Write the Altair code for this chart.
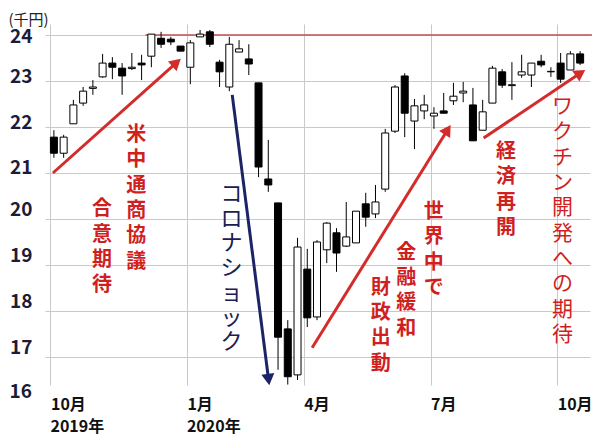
import math
import altair as alt
import numpy as np
import pandas as pd

FONT = "Noto Sans CJK JP"

# ---------------- data (thousand yen, weekly) ----------------
weeks = pd.date_range("2019-09-30", periods=55, freq="7D").strftime("%Y-%m-%d").tolist()
opens = [21.78, 21.43, 22.07, 22.52, 22.84, 23.09, 23.39, 23.28, 23.27, 23.39,
         23.54, 23.93, 23.91, 23.76, 23.30, 23.96, 24.07, 23.41, 22.87, 23.63,
         23.48, 22.96, 20.87, 20.35, 17.61, 16.61, 18.91, 17.87, 19.33, 19.70,
         19.41, 19.48, 20.33, 20.11, 20.65, 21.91, 23.11, 22.13, 22.35, 22.24,
         22.35, 22.57, 22.74, 22.48, 21.93, 22.52, 23.20, 22.90, 23.13, 23.13,
         23.43, 23.20, 23.39, 23.24, 23.59]
highs = [21.93, 21.83, 22.59, 22.87, 23.02, 23.59, 23.52, 23.39, 23.61, 23.57,
         24.02, 24.07, 23.96, 23.76, 23.89, 24.11, 24.11, 23.46, 23.96, 23.89,
         23.80, 22.96, 21.72, 20.35, 17.80, 19.59, 19.35, 19.54, 19.93, 19.80,
         20.37, 20.17, 20.57, 20.74, 21.96, 22.91, 23.17, 22.61, 22.70, 22.43,
         22.74, 22.96, 22.98, 22.85, 22.59, 23.33, 23.26, 23.41, 23.57, 23.39,
         23.57, 23.30, 23.61, 23.65, 23.65]
lows = [21.33, 21.33, 22.07, 22.46, 22.70, 23.07, 23.04, 22.70, 23.24, 23.02,
        23.30, 23.72, 23.78, 23.65, 22.93, 23.96, 23.74, 22.87, 22.78, 23.63,
        23.13, 20.91, 20.59, 16.72, 16.40, 16.50, 17.65, 17.80, 19.04, 18.85,
        19.39, 19.48, 19.83, 20.02, 20.59, 21.87, 21.78, 21.52, 22.17, 21.96,
        22.30, 22.48, 22.54, 21.70, 21.93, 22.52, 22.85, 22.59, 23.07, 22.87,
        23.30, 23.09, 22.96, 23.24, 23.35]
closes = [21.43, 21.78, 22.48, 22.78, 22.87, 23.39, 23.30, 23.11, 23.30, 23.35,
          24.02, 23.80, 23.85, 23.65, 23.83, 24.02, 23.80, 23.20, 23.80, 23.70,
          23.37, 21.13, 20.74, 17.43, 16.57, 19.39, 17.85, 19.50, 19.91, 19.26,
          19.61, 20.17, 20.04, 20.37, 21.87, 22.87, 22.30, 22.46, 22.48, 22.30,
          22.30, 22.67, 22.78, 21.70, 22.33, 23.28, 22.91, 22.92, 23.20, 23.39,
          23.35, 23.21, 23.04, 23.59, 23.39]

tick_weeks = ["2019-09-30", "2020-01-06", "2020-03-30", "2020-06-29", "2020-09-28"]
tick_labels = ["10月", "1月", "4月", "7月", "10月"]
year_weeks = ["2019-09-30", "2020-01-06"]
year_labels = ["2019年", "2020年"]
y_ticks = [17, 18, 19, 20, 21, 22, 23, 24]
bottom_tick = "16"
resistance = 24.0

# annotations (week index, thousand yen)
red_notes = ["米中通商協議", "合意期待", "世界中で", "金融緩和", "財政出動", "経済再開"]
red_notes_i = [8.46, 4.93, 38.97, 36.15, 33.53, 46.4]
red_notes_v = [22.04, 20.43, 20.37, 19.48, 18.72, 21.67]
vaccine_note = "ワクチン開発への期待"
vaccine_i, vaccine_v = 52.2, 22.67
corona_note = "コロナショック"
corona_i, corona_v = 18.23, 20.76

arrows_from_i = [-0.1, 18.3, 26.5, 44.1]
arrows_from_v = [21.0, 22.70, 17.20, 21.76]
arrows_to_i = [13.0, 22.1, 40.7, 54.5]
arrows_to_v = [23.48, 16.39, 22.04, 23.24]
arrows_color = ["#d42b2b", "#1b2466", "#d42b2b", "#d42b2b"]

# ---------------- layout ----------------
W, H = 545, 361
XD = [-0.4, 54.5]
YD = [16.39, 24.24]
PXI = W / (XD[1] - XD[0])
PXV = H / (YD[1] - YD[0])
TICK_SHIFT = -0.35
LAB_PAD = 13

df = pd.DataFrame(dict(i=list(range(len(weeks))), week=weeks, open=opens,
                       high=highs, low=lows, close=closes))
df["fill"] = np.where(df["close"] >= df["open"], "white", "black")

tick_pos = [weeks.index(w) + TICK_SHIFT for w in tick_weeks]
expr = "''"
for k in range(len(tick_pos) - 1, -1, -1):
    if k == len(tick_pos) - 1:
        expr = f"'{tick_labels[k]}'"
    else:
        mid = (tick_pos[k] + tick_pos[k + 1]) / 2
        expr = f"datum.value < {mid} ? '{tick_labels[k]}' : ({expr})"

x_scale = alt.Scale(domain=XD, nice=False, zero=False)
y_scale = alt.Scale(domain=YD, nice=False, zero=False)

x_axis = alt.Axis(values=tick_pos, labelExpr=expr, grid=True, gridColor="#c9c9c9",
                  gridWidth=1, ticks=False, domain=False, labelAlign="left",
                  labelBaseline="top", labelFont=FONT, labelFontSize=16,
                  labelFontWeight="bold", labelColor="#111111", labelPadding=11,
                  labelFlush=False, labelOverlap=False, labelBound=False, title=None)
y_axis = alt.Axis(values=y_ticks, grid=True, gridColor="#c9c9c9", gridWidth=1,
                  ticks=False, domain=False, labelFont=FONT, labelFontSize=19,
                  labelFontWeight="bold", labelColor="#1c1c3a", labelPadding=LAB_PAD,
                  labelOffset={"expr": "datum.value >= 24 ? 1 : datum.value >= 21 ? -5 : -9"},
                  title="(千円)", titleAngle=0, titleAlign="left", titleBaseline="middle",
                  titleX=-37, titleY=-5, titleFont=FONT, titleFontSize=15,
                  titleFontWeight="normal", titleColor="#222222")


def X(field="i"):
    return alt.X(f"{field}:Q", scale=x_scale, axis=x_axis)


def Y(field="v"):
    return alt.Y(f"{field}:Q", scale=y_scale, axis=y_axis)


wicks = alt.Chart(df).mark_rule(color="black", strokeWidth=1).encode(
    x=X(), y=Y("low"), y2="high:Q")
bodies = alt.Chart(df).mark_bar(size=7, stroke="black", strokeWidth=1).encode(
    x=X(), y=Y("open"), y2="close:Q", color=alt.Color("fill:N", scale=None))

res_df = pd.DataFrame({"i": [9.4], "i2": [56.0], "v": [resistance]})
res_line = alt.Chart(res_df).mark_rule(color="#c0504d", strokeWidth=1.5).encode(
    x=X(), x2="i2:Q", y=Y())

# arrows
rows, heads = [], []
for i0, v0, i1, v1, c in zip(arrows_from_i, arrows_from_v, arrows_to_i, arrows_to_v, arrows_color):
    dxp = (i1 - i0) * PXI
    dyp = -(v1 - v0) * PXV
    L = math.hypot(dxp, dyp)
    ux, uy = dxp / L, dyp / L
    back = 5.5
    ic = i1 - back * ux / PXI
    vc = v1 + back * uy / PXV
    ang = math.degrees(math.atan2(dxp, -dyp)) % 360
    rows.append({"i": i0, "v": v0, "i2": ic, "v2": vc, "c": c})
    heads.append({"i": ic, "v": vc, "angle": ang, "c": c})
arr_df = pd.DataFrame(rows)
head_df = pd.DataFrame(heads)

arrow_lines = alt.Chart(arr_df).mark_rule(strokeWidth=3).encode(
    x=X(), x2="i2:Q", y=Y(), y2="v2:Q", color=alt.Color("c:N", scale=None))
arrow_heads = alt.Chart(head_df).mark_point(shape="triangle-up", filled=True, size=170,
                                            opacity=1).encode(
    x=X(), y=Y(), angle=alt.Angle("angle:Q", scale=None), color=alt.Color("c:N", scale=None))


def vert(s):
    return "\n".join(list(s))


red_df = pd.DataFrame({"i": red_notes_i, "v": red_notes_v, "t": [vert(s) for s in red_notes]})
red_text = alt.Chart(red_df).mark_text(font=FONT, fontSize=20, fontWeight="bold", color="#cf1f1f",
                                       lineBreak="\n", lineHeight=25.3, baseline="top",
                                       align="center").encode(x=X(), y=Y(), text="t:N")
vac_df = pd.DataFrame({"i": [vaccine_i], "v": [vaccine_v], "t": [vert(vaccine_note)]})
vac_text = alt.Chart(vac_df).mark_text(font=FONT, fontSize=21, fontWeight="normal", color="#cf1f1f",
                                       lineBreak="\n", lineHeight=25.3, baseline="top",
                                       align="center").encode(x=X(), y=Y(), text="t:N")
cor_df = pd.DataFrame({"i": [corona_i], "v": [corona_v], "t": [vert(corona_note)]})
cor_text = alt.Chart(cor_df).mark_text(font=FONT, fontSize=22, fontWeight="normal", color="#1b2050",
                                       lineBreak="\n", lineHeight=24.7, baseline="top",
                                       align="center").encode(x=X(), y=Y(), text="t:N")

year_df = pd.DataFrame({"i": [weeks.index(w) + TICK_SHIFT for w in year_weeks], "t": year_labels})
year_text = alt.Chart(year_df).mark_text(font=FONT, fontSize=16, fontWeight="bold", color="#111111",
                                         align="left", baseline="middle").encode(
    x=X(), y=alt.value(H + 42), text="t:N")

b_df = pd.DataFrame({"v": [YD[0] - 0.15], "t": [bottom_tick]})
b_text = alt.Chart(b_df).mark_text(font=FONT, fontSize=19, fontWeight="bold", color="#1c1c3a",
                                   align="right", baseline="middle").encode(
    x=alt.value(-LAB_PAD), y=Y(), text="t:N")

chart = alt.layer(res_line, wicks, bodies, arrow_lines, arrow_heads, red_text, vac_text,
                  cor_text, year_text, b_text).properties(
    width=W, height=H,
    autosize=alt.AutoSizeParams(type="none"),
    padding={"left": 37, "top": 16, "right": 2, "bottom": 51},
    background="white",
).configure_view(stroke=None)

chart.save("out.html", embed_options={"renderer": "svg", "actions": False})
